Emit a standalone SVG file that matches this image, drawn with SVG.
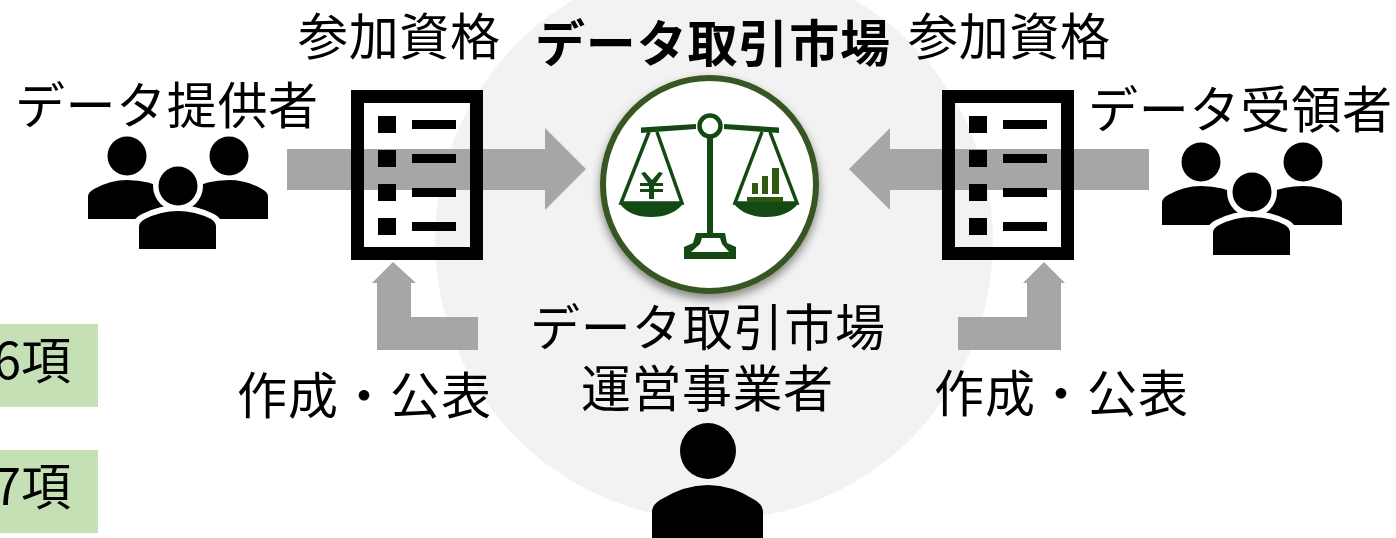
<svg xmlns="http://www.w3.org/2000/svg" width="1396" height="538" viewBox="0 0 1396 538">
<style>
text{font-family:"Noto Sans CJK JP","Noto Sans",sans-serif;font-size:50px;fill:#000}
.arrow{fill:#a6a6a6}
.e{fill:#134a14}
.es{fill:none;stroke:#134a14}
</style>
<defs>
<filter id="sh" x="-20%" y="-20%" width="140%" height="140%"><feDropShadow dx="0" dy="5" stdDeviation="5" flood-color="#000" flood-opacity="0.45"/></filter>
<g id="doc">
<rect x="357.500" y="96.500" width="119" height="157" fill="none" stroke="#000" stroke-width="13"/>
<path d="M378 116h18v17h-18zM378 150h18v17h-18zM378 184h18v17h-18zM378 218h18v17h-18zM412 120h44v9h-44zM412 154h44v9h-44zM412 188h44v9h-44zM412 222h44v9h-44z"/>
</g>
<g id="people">
<circle cx="127" cy="156" r="19.500"/><circle cx="229" cy="156" r="19.500"/>
<path d="M88 219V197Q88 192 94 189Q110 180 127 180Q150 180 166 190V219ZM268 219V197Q268 192 262 189Q246 180 229 180Q206 180 190 190V219Z"/>
<circle cx="178" cy="186" r="25" fill="#fff"/>
<path d="M133 255V226Q133 218 142 214Q160 205 178 205Q196 205 214 214Q222 218 222 226V255Z" fill="#fff"/>
<circle cx="178" cy="186" r="19.500"/>
<path d="M139 249V227Q139 222 145 219Q161 211 178 211Q195 211 211 219Q216 222 216 227V249Z"/>
</g>
</defs>
<rect width="1396" height="538" fill="#fff"/>
<circle id="backdrop" cx="714" cy="241" r="279" fill="#f2f2f2"/>
<g id="notes">
<rect x="0" y="324" width="98" height="83" fill="#c5e0b4"/>
<rect x="0" y="450" width="98" height="83" fill="#c5e0b4"/>
<text x="71" y="379" text-anchor="end">6項</text>
<text x="71" y="505" text-anchor="end">7項</text>
</g>
<g id="connectors">
<path class="arrow" d="M287 149H545V128L586 169L545 210V190H287Z"/>
<path class="arrow" d="M1149 149H890V128L849 169L890 210V190H1149Z"/>
<path class="arrow" d="M393 262L416 283H411V317H478V350H377V283H372Z"/>
<path class="arrow" d="M1044 262L1065 283H1061V350H958V317H1027V283H1023Z"/>
</g>
<g id="provider">
<use href="#people"/>
<text x="15" y="124" textLength="303">データ提供者</text>
</g>
<g id="doc-left">
<use href="#doc"/>
<text x="298" y="55" textLength="202">参加資格</text>
</g>
<g id="doc-right">
<use href="#doc" x="591"/>
<text x="908" y="55" textLength="202">参加資格</text>
</g>
<g id="receiver">
<use href="#people" x="1074" y="6"/>
<text x="1088" y="128" textLength="304">データ受領者</text>
</g>
<g id="market">
<circle cx="709.500" cy="184.500" r="106.500" fill="#fff" stroke="#385723" stroke-width="6" filter="url(#sh)"/>
<path class="e" d="M641 127.500L696 124V129L641 133ZM779 127.500L724 124V129L779 133Z"/>
<circle cx="710" cy="126" r="10.500" fill="#fff" stroke="#134a14" stroke-width="4.500"/>
<rect class="e" x="707" y="137" width="6" height="97"/>
<path class="e" fill-rule="evenodd" d="M696 233H725L727 243L736 247V259H684V247L693 243ZM702 238L700 244L691 252H729L722 244L720 238Z"/>
<path class="es" stroke-width="3.500" d="M649 132L621 203H682L657 132"/>
<path class="e" d="M620 204L683 204Q672 217 651 217Q630 217 620 204Z"/>
<path class="es" stroke-width="3.500" d="M762 132L735 203H797L770 132"/>
<path class="e" d="M734 204H798Q787 217 766 217Q745 217 734 204Z"/>
<path class="e" d="M641 173L645 172L652 180L659 172L663 173L656 183H663V186H654V189H663V192H654V199H649V192H640V189H649V186H640V183H648Z"/>
<path d="M752 183h6v11h-6zM762 176h6v18h-6zM772 168h7v26h-7zM747 197h36v5h-36z" fill="#2c5a0f"/>
<text x="535" y="62" textLength="355" style="font-weight:700">データ取引市場</text>
</g>
<g id="operator">
<circle cx="708" cy="451" r="28"/>
<path d="M652 538V512Q652 505 660 500Q684 485 708 485Q732 485 755 500Q763 505 763 512V538Z"/>
<text x="530" y="346" textLength="355">データ取引市場</text>
<text x="581" y="407" textLength="252">運営事業者</text>
</g>
<g id="labels">
<text x="237" y="414" textLength="254">作成・公表</text>
<text x="934" y="412" textLength="254">作成・公表</text>
</g>
</svg>
